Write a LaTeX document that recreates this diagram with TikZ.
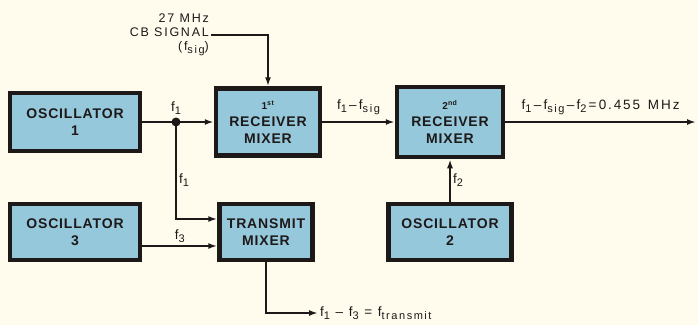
\documentclass[tikz,border=0pt]{standalone}
\usepackage{fontspec}
\setmainfont{Liberation Sans}
\newfontfamily\labelfont[LetterSpace=14]{Liberation Sans}
\newfontfamily\blockfont[LetterSpace=6]{Liberation Sans}
\usetikzlibrary{arrows.meta,positioning}
\definecolor{paper}{RGB}{255,252,238}
\definecolor{boxblue}{RGB}{150,200,220}
\definecolor{inkdark}{RGB}{30,25,25}
\newcommand{\lowsub}[1]{\raisebox{-0.45ex}{\fontsize{11}{11}\selectfont #1}}

\begin{document}
\begin{tikzpicture}[
    x=1pt, y=-1pt,
    block/.style={rectangle, draw=inkdark, fill=boxblue, line width=4.5pt, minimum width=104pt, minimum height=67pt, inner sep=1pt, font=\blockfont\bfseries\fontsize{14}{17}\selectfont, align=center, text=inkdark},
    sig/.style={-{Latex[length=9pt,width=6pt]}, line width=2.3pt, draw=inkdark},
    sigtext/.style={font=\labelfont\fontsize{13.5}{15}\selectfont, text=inkdark, inner sep=2pt}
]
    \path[use as bounding box, fill=paper] (0,0) rectangle (698,325);

    % Nodes
    \node[block, minimum width=130pt, minimum height=58pt] (osc1) at (75,122) {OSCILLATOR\\1};
    \node[block] (rm1) at (268,122) {{\fontsize{10}{10}\selectfont 1\textsuperscript{st}}\\RECEIVER\\MIXER};
    \node[block, minimum width=106pt, minimum height=70pt] (rm2) at (450,122) {{\fontsize{10}{10}\selectfont 2\textsuperscript{nd}}\\RECEIVER\\MIXER};
    \node[block, minimum width=130pt, minimum height=56pt] (osc3) at (75,232) {OSCILLATOR\\3};
    \node[block, minimum width=93pt, minimum height=56pt] (tm) at (266,232) {TRANSMIT\\MIXER};
    \node[block, minimum width=123pt, minimum height=56pt] (osc2) at (450,232) {OSCILLATOR\\2};

    \node[sigtext, align=right, anchor=east, font=\labelfont\fontsize{12.5}{14}\selectfont] (cb) at (211,35) {27 MHz\\CB SIGNAL\\(f\lowsub{sig})};
    \node[sigtext, anchor=west] (ftx) at (318,313) {f\lowsub{1} \textendash{} f\lowsub{3} = f\lowsub{transmit}};
    \coordinate (j) at (176,122);
    \coordinate (tmin) at ([yshift=13pt]tm.west);
    \coordinate (out) at (696,122);

    % Edges with labels
    \draw[sig] (cb.east) -| (rm1.north);
    \draw[sig] (osc1.east) -- (rm1.west);
    \fill[inkdark] (j) circle (4.5pt);
    \node[sigtext, above=5pt of j] (lf1) {f\lowsub{1}};
    \draw[sig] (j) |- node[sigtext, right, pos=0.3] (lf1b) {f\lowsub{1}} (tmin);
    \draw[sig] ([yshift=-14pt]osc3.east) -- node[sigtext, above] (lf3) {f\lowsub{3}} ([yshift=-14pt]tm.west);
    \draw[sig] (tm.south) |- (ftx.west);
    \draw[sig] (rm1.east) -- node[sigtext, above=4pt] (lmix) {f\lowsub{1}\,\textendash\,f\lowsub{sig}} (rm2.west);
    \draw[sig] (osc2.north) -- node[sigtext, right] (lf2) {f\lowsub{2}} (rm2.south);
    \draw[sig] (rm2.east) -- node[sigtext, above=4pt] (lif) {f\lowsub{1}\,\textendash\,f\lowsub{sig}\,\textendash\,f\lowsub{2}\,=\,0.455 \,MHz} (out);

\end{tikzpicture}
\end{document}
